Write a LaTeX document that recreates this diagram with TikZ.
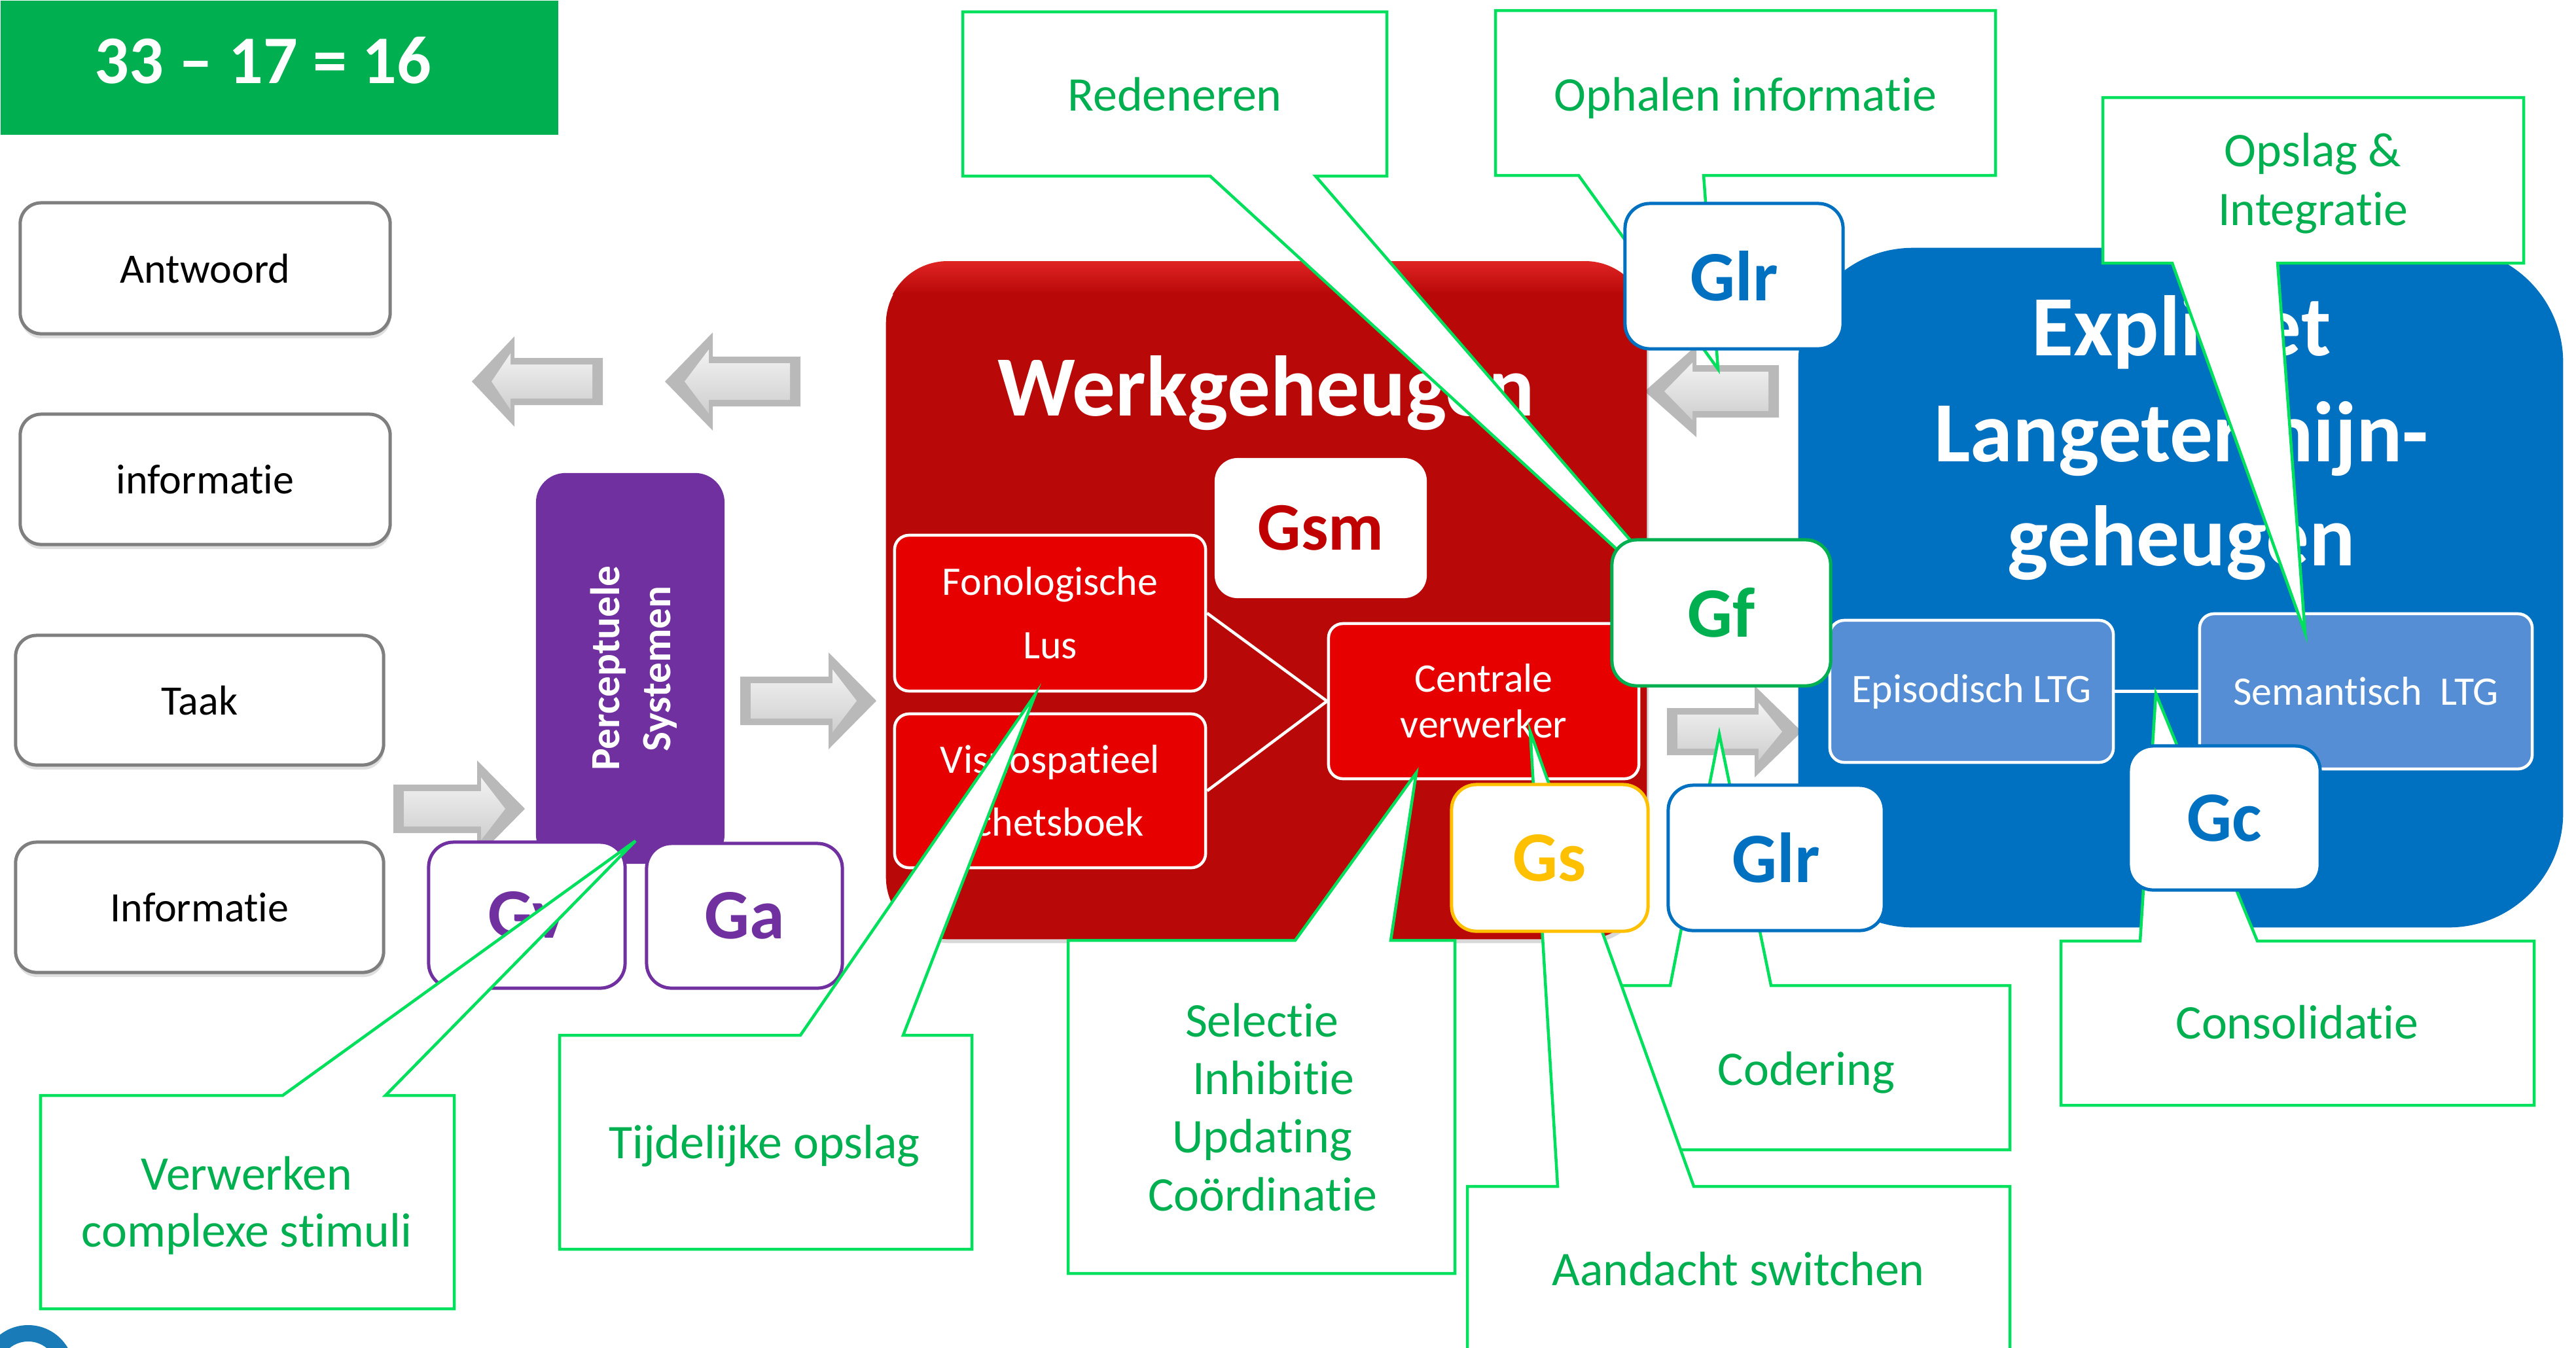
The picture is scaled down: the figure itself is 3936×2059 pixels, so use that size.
\documentclass[tikz,border=0pt]{standalone}
\usepackage{fontspec}
\setmainfont{Carlito}[Ligatures=NoCommon]
\usetikzlibrary{shadows}

\definecolor{titlegreen}{HTML}{00B050}
\definecolor{calloutline}{HTML}{00E05C}
\definecolor{callouttext}{HTML}{00B050}
\definecolor{wmred}{HTML}{B80808}
\definecolor{wmredtop}{HTML}{E02424}
\definecolor{subred}{HTML}{E60000}
\definecolor{gsmred}{HTML}{C00000}
\definecolor{ltmblue}{HTML}{0070C0}
\definecolor{subblue}{HTML}{558ED5}
\definecolor{percpurple}{HTML}{7030A0}
\definecolor{gsgold}{HTML}{FFC000}
\definecolor{gfgreen}{HTML}{00B050}
\definecolor{boxgray}{HTML}{7F7F7F}
\definecolor{logoblue}{HTML}{1A7BB9}

\newcommand{\fs}[2]{\fontsize{#1}{#2}\selectfont}

% bevelled gray block arrow
% #1 tail x, #2 head base x, #3 tip x, #4 centre y, #5 half body height,
% #6 half head height, #7 direction (1 = right, -1 = left)
\newcommand{\blockarrow}[7]{%
  \fill[arrowrim] (#1,{#4-#5}) -- (#2,{#4-#5}) -- (#2,{#4-#6}) -- (#3,#4)
    -- (#2,{#4+#6}) -- (#2,{#4+#5}) -- (#1,{#4+#5}) -- cycle;
  \shade[arrowface] ({#1+(#7)*16},{#4-#5+10}) -- ({#2+(#7)*6},{#4-#5+10})
    -- ({#2+(#7)*6},{#4-#6+26}) -- ({#3-(#7)*30},#4) -- ({#2+(#7)*6},{#4+#6-26})
    -- ({#2+(#7)*6},{#4+#5-10}) -- ({#1+(#7)*16},{#4+#5-10}) -- cycle;
}

\tikzset{
  lbox/.style={draw=boxgray, line width=0.05cm, fill=white, rounded corners=0.32cm,
    font=\fs{18.2}{22}, text=black,
    drop shadow={shadow xshift=0.01cm, shadow yshift=-0.07cm, opacity=0.25}},
  gbox/.style={fill=white, line width=0.05cm, rounded corners=0.38cm,
    font=\bfseries\fs{30.8}{36}},
  subbox/.style={draw=white, line width=0.045cm, rounded corners=0.22cm,
    text=white, align=center},
  callout/.style={draw=calloutline, fill=white, line width=0.045cm},
  ctext/.style={text=callouttext, font=\fs{21}{25}, anchor=base},
  bigtitle/.style={text=white, font=\bfseries\fs{37.3}{45}, anchor=base},
  arrowrim/.style={fill=gray!55},
  arrowface/.style={top color=gray!10, bottom color=gray!38},
  linkline/.style={draw=white, line width=0.045cm},
}

\begin{document}
\begin{tikzpicture}[x=0.01cm, y=-0.01cm]
\useasboundingbox (0,0) rectangle (3936,2059);
\clip (0,0) rectangle (3936,2059);
\fill[white] (0,0) rectangle (3936,2059);

% ---- heading ----
\node[fill=titlegreen, minimum width=8.52cm, minimum height=2.05cm, inner sep=0,
      anchor=north west] (eqbox) at (0,0) {};
\node[text=white, font=\bfseries\fs{29.6}{34}, anchor=base] (eq) at (402,127) {33 – 17 = 16};

% ---- task side ----
\node[lbox, minimum width=5.65cm, minimum height=2.0cm] (antwoord) at (313.5,410) {Antwoord};
\node[lbox, minimum width=5.65cm, minimum height=1.99cm] (info1) at (313.5,732.5) {informatie};
\node[lbox, minimum width=5.62cm, minimum height=1.98cm] (taak) at (305,1070) {Taak};
\node[lbox, minimum width=5.62cm, minimum height=1.99cm] (info2) at (305,1386.5) {Informatie};

% ---- flow arrows ----
\blockarrow{921}{786}{721}{583}{36}{69}{-1}
\blockarrow{1223}{1089}{1016}{583}{38}{75}{-1}
\blockarrow{601}{729}{802}{1236}{37}{74}{1}
\blockarrow{1131}{1266}{1339}{1071}{37}{74}{1}
\blockarrow{2718}{2592}{2513}{598}{40}{70}{-1}
\blockarrow{2547}{2681}{2753}{1118}{36}{70}{1}

% ---- perceptual systems ----
\node[fill=percpurple, rounded corners=0.45cm, minimum width=2.88cm, minimum height=5.97cm] (percep) at (963,1021.5) {};
\node[text=white, font=\bfseries\fs{18}{22}, rotate=90, anchor=base] (percA) at (946,1021) {Perceptuele};
\node[text=white, font=\bfseries\fs{18}{22}, rotate=90, anchor=base] (percB) at (1024,1022) {Systemen};
\node[gbox, draw=percpurple, text=percpurple, minimum width=3.0cm, minimum height=2.23cm] (gv) at (805,1398.5) {Gv};
\node[gbox, draw=percpurple, text=percpurple, minimum width=2.99cm, minimum height=2.21cm] (ga) at (1137.5,1399.5) {Ga};

% ---- working memory ----
\node[fill=wmred, rounded corners=0.95cm, minimum width=11.62cm, minimum height=10.35cm,
      drop shadow={opacity=0.3, shadow xshift=0.03cm, shadow yshift=-0.06cm}] (wm) at (1935,917.5) {};
\begin{scope}
  \clip[rounded corners=0.95cm] (wm.north west) rectangle (wm.south east);
  \shade[top color=wmredtop, bottom color=wmred] (wm.north west) rectangle ([yshift=-0.5cm]wm.north east);
\end{scope}
\node[bigtitle] (wmtitle) at (1935,635) {Werkgeheugen};
\node[fill=white, rounded corners=0.35cm, minimum width=3.24cm, minimum height=2.14cm,
      text=gsmred, font=\bfseries\fs{29.6}{34}] (gsm) at (2018,807) {Gsm};
\node[subbox, fill=subred, minimum width=4.75cm, minimum height=2.38cm, font=\fs{17.6}{27.6}] (fon) at (1604.5,937) {Fonologische\\Lus};
\node[subbox, fill=subred, minimum width=4.75cm, minimum height=2.35cm, font=\fs{17.6}{27.3}] (vis) at (1604.5,1208.5) {Visuospatieel\\Schetsboek};
\node[subbox, fill=subred, minimum width=4.74cm, minimum height=2.37cm, font=\fs{17.6}{20}] (cen) at (2267,1071.5) {Centrale\\verwerker};
\draw[linkline] (fon.east) -- (cen.west);
\draw[linkline] (vis.east) -- (cen.west);

% ---- explicit long-term memory ----
\node[fill=ltmblue, rounded corners=1.75cm, minimum width=11.68cm, minimum height=10.38cm] (ltm) at (3332,898) {};
\node[bigtitle] (ltmA) at (3333,543) {Expliciet};
\node[bigtitle] (ltmB) at (3333,705) {Langetermijn-};
\node[bigtitle] (ltmC) at (3333,864) {geheugen};
\node[subbox, fill=subblue, minimum width=4.33cm, minimum height=2.17cm, font=\fs{17.6}{21}] (epi) at (3012.5,1056.5) {Episodisch LTG};
\node[subbox, fill=subblue, minimum width=5.08cm, minimum height=2.37cm, font=\fs{17.6}{21}] (sem) at (3615,1056.5) {Semantisch~~LTG};
\draw[linkline] (epi.east) -- (sem.west);

% ---- callouts ----
\coordinate (tipRed) at (2629,985);
\draw[callout] (1471,18) -- (2119,18) -- (2119,269) -- (2010,269) -- (tipRed) -- (1849,269) -- (1471,269) -- cycle;
\node[ctext] (redtxt) at (1795,169) {Redeneren};

\coordinate (tipOph) at (2625,564);
\draw[callout] (2285,16) -- (3049,16) -- (3049,268) -- (2603,268) -- (tipOph) -- (2412,268) -- (2285,268) -- cycle;
\node[ctext] (ophtxt) at (2667,169) {Ophalen informatie};

\coordinate (tipOps) at (3522,967);
\draw[callout] (3213,149) -- (3856,149) -- (3856,402) -- (3480,402) -- (tipOps) -- (3319,402) -- (3213,402) -- cycle;
\node[ctext] (opstxtA) at (3534,254) {Opslag \&};
\node[ctext] (opstxtB) at (3534,344) {Integratie};

\coordinate (tipVer) at (971,1285);
\draw[callout] (62,1674) -- (432,1674) -- (tipVer) -- (589,1674) -- (694,1674) -- (694,2000) -- (62,2000) -- cycle;
\node[ctext] (vertxtA) at (377,1818) {Verwerken};
\node[ctext] (vertxtB) at (377,1905) {complexe stimuli};

\coordinate (tipTij) at (1582,1061);
\draw[callout] (855,1582) -- (1223,1582) -- (tipTij) -- (1380,1582) -- (1485,1582) -- (1485,1909) -- (855,1909) -- cycle;
\node[ctext] (tijtxt) at (1168,1770) {Tijdelijke opslag};

\coordinate (tipSel) at (2164,1181);
\draw[callout] (1632,1437) -- (1979,1437) -- (tipSel) -- (2125,1437) -- (2223,1437) -- (2223,1946) -- (1632,1946) -- cycle;
\node[ctext] (seltxtA) at (1928,1584) {Selectie};
\node[ctext] (seltxtB) at (1946,1672) {Inhibitie};
\node[ctext] (seltxtC) at (1929,1761) {Updating};
\node[ctext] (seltxtD) at (1929,1850) {Coördinatie};

\coordinate (tipCod) at (2627,1122);
\draw[callout] (2470,1506) -- (2552,1506) -- (tipCod) -- (2706,1506) -- (3071,1506) -- (3071,1757) -- (2470,1757) -- cycle;
\node[ctext] (codtxt) at (2760,1658) {Codering};

\coordinate (tipAan) at (2338,1118);
\draw[callout] (2242,1813) -- (2380,1813) -- (tipAan) -- (2588,1813) -- (3071,1813) -- (3071,2120) -- (2242,2120) -- cycle;
\node[ctext] (aantxt) at (2656,1964) {Aandacht switchen};

\coordinate (tipCon) at (3294,1060);
\draw[callout] (3149,1438) -- (3270,1438) -- (tipCon) -- (3449,1438) -- (3872,1438) -- (3872,1689) -- (3149,1689) -- cycle;
\node[ctext] (contxt) at (3510,1587) {Consolidatie};

% ---- broad abilities ----
\node[gbox, draw=gfgreen, text=gfgreen, minimum width=3.34cm, minimum height=2.23cm] (gf) at (2630,936.5) {Gf};
\node[gbox, draw=ltmblue, text=ltmblue, minimum width=3.33cm, minimum height=2.22cm] (glrA) at (2649.5,422) {Glr};
\node[gbox, draw=ltmblue, text=ltmblue, minimum width=3.30cm, minimum height=2.22cm] (glrB) at (2714,1311) {Glr};
\node[gbox, draw=gsgold, text=gsgold, minimum width=3.0cm, minimum height=2.24cm] (gs) at (2368,1311) {Gs};
\node[gbox, draw=ltmblue, text=ltmblue, minimum width=2.93cm, minimum height=2.2cm] (gc) at (3398.5,1250) {Gc};

% ---- logo edge ----
\fill[logoblue, even odd rule] (43,2095) circle (0.7cm) (43,2095) circle (0.45cm);
\end{tikzpicture}
\end{document}
